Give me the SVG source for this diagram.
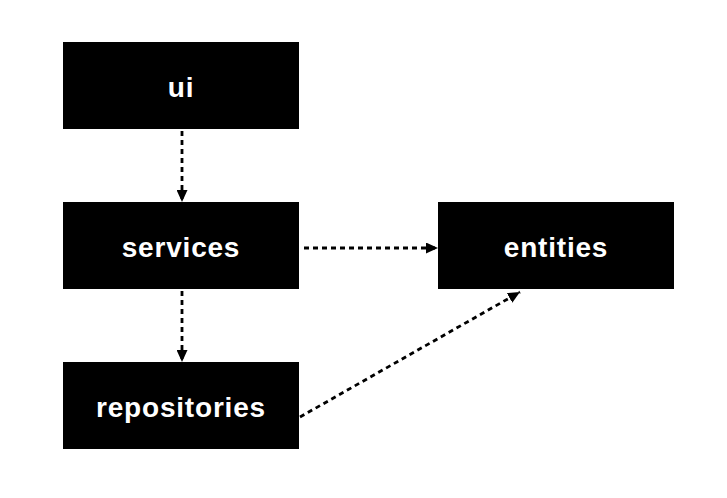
<svg xmlns="http://www.w3.org/2000/svg" width="727" height="498" viewBox="0 0 727 498">
<defs>
<style>
.box{fill:#000}
.lbl{fill:#fff;font-family:"Liberation Sans",Arial,sans-serif;font-weight:bold;font-size:28px;letter-spacing:0.8px;text-anchor:middle}
.edge{stroke:#000;stroke-width:2.8;stroke-dasharray:5 4;fill:none}
</style>
<marker id="ah" markerWidth="12" markerHeight="11" refX="12" refY="5.5" orient="auto" markerUnits="userSpaceOnUse">
<path d="M0,0 L12,5.5 L0,11 Z" fill="#000"/>
</marker>
</defs>
<rect width="727" height="498" fill="#fff"/>
<g id="connectors">
<line class="edge" x1="182" y1="131" x2="182" y2="202" marker-end="url(#ah)"/>
<line class="edge" x1="182" y1="291" x2="182" y2="362" marker-end="url(#ah)"/>
<line class="edge" x1="304" y1="248" x2="438" y2="248" marker-end="url(#ah)"/>
<line class="edge" x1="300" y1="417" x2="520" y2="292" marker-end="url(#ah)"/>
</g>
<g id="ui"><rect class="box" x="63" y="42" width="236" height="87"/><text class="lbl" x="181" y="97">ui</text></g>
<g id="services"><rect class="box" x="63" y="202" width="236" height="87"/><text class="lbl" x="181" y="257">services</text></g>
<g id="repositories"><rect class="box" x="63" y="362" width="236" height="87"/><text class="lbl" x="181" y="417">repositories</text></g>
<g id="entities"><rect class="box" x="438" y="202" width="236" height="87"/><text class="lbl" x="556" y="257">entities</text></g>
</svg>
